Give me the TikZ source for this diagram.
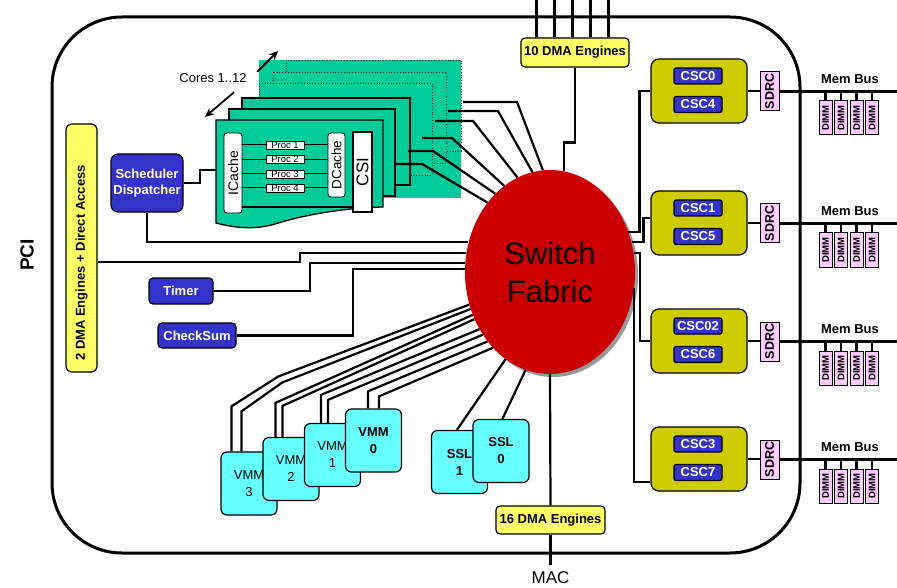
\documentclass[tikz,border=0pt]{standalone}
\usepackage{fontspec}
\setmainfont{Liberation Sans}
\usepackage{graphicx}
\usetikzlibrary{shapes.geometric,shadows,positioning,arrows.meta}

\definecolor{fabricred}{HTML}{CC0000}
\definecolor{unitblue}{HTML}{3333CC}
\definecolor{dmayellow}{HTML}{FFFF66}
\definecolor{chanolive}{HTML}{CCCC00}
\definecolor{dimmpink}{HTML}{FFCCFF}
\definecolor{vmmcyan}{HTML}{66FFFF}
\definecolor{coregreen}{HTML}{00CC99}

\newcommand\fsz[2]{\fontsize{#1}{#2}\selectfont}

\tikzset{
  wire/.style={line width=2.2pt},
  thinwire/.style={line width=1pt},
  blk/.style={draw, line width=1.2pt, rounded corners=4pt, inner sep=0pt, align=center},
  unit/.style={blk, fill=unitblue, text=white, font=\fsz{13}{16}\bfseries},
  dma/.style={blk, fill=dmayellow, font=\fsz{13}{14}\bfseries},
  vmm/.style={blk, fill=vmmcyan, minimum width=56pt, minimum height=63pt, rounded corners=6pt, font=\fsz{13}{17}},
  csc/.style={unit, minimum width=48pt, minimum height=16pt, rounded corners=2pt},
  chan/.style={blk, fill=chanolive, minimum width=96pt, minimum height=64pt, rounded corners=8pt},
  sdrc/.style={draw, line width=1pt, fill=dimmpink, inner sep=0pt, minimum width=19pt, minimum height=39pt, font=\fsz{12.5}{14}\bfseries},
  dimm/.style={sdrc, minimum width=13pt, minimum height=34pt, font=\fsz{9.5}{10}\bfseries},
  cache/.style={draw, fill=white, line width=0.8pt, rounded corners=3pt, inner sep=0pt},
  proc/.style={draw, fill=white, line width=0.8pt, inner sep=0pt, minimum width=38pt, minimum height=8pt, font=\fsz{9.5}{10}},
  card/.style={draw, line width=1.3pt, fill=coregreen},
  ghost/.style={draw, dotted, line width=0.8pt, fill=coregreen},
  cue/.style={line width=1.8pt, -{Stealth[length=9pt,width=8pt]}},
}

% one memory channel: #1 top edge, #2 tag, #3 #4 the two CSC labels
\newcommand\memchan[4]{%
  \node[chan] (g#2) at (699,#1+32) {};
  \node[csc] (c#2a) at (698,#1+17) {#3};
  \node[csc] (c#2b) at (698,#1+45.5) {#4};
  \node[sdrc] (s#2) at (769.5,#1+32.5) {\rotatebox{90}{SDRC}};
  \draw[wire] (g#2.east) -- (s#2.west |- g#2.east);
  \draw[wire] (s#2.east) -- (s#2.east -| busend);
  \node[font=\fsz{13}{14}\bfseries, inner sep=0pt] (m#2) at (850,#1+20) {Mem Bus};
  \foreach \k in {0,...,3} {
    \node[dimm] (d#2\k) at (825.5+15.5*\k,#1+59) {\rotatebox{90}{DIMM}};
    \draw[wire] (d#2\k.north) -- (d#2\k.north |- s#2.east);
  }
}

\begin{document}
\begin{tikzpicture}[x=1pt, y=-1pt]
  \useasboundingbox (0,0) rectangle (897,588);

  %%%%% FRAME %%%%%
  \draw[line width=3pt, rounded corners=70pt] (52,17) rectangle (800,553);
  \node[font=\fsz{19}{20}\bfseries, rotate=90] (pci) at (27,255) {PCI};
  \coordinate (busend) at (897,0);

  %%%%% CORES %%%%%
  \fill[coregreen] (259,60) rectangle (461,198);
  \draw[ghost] (286,60) rectangle (461,151);
  \draw[ghost] (273,72) rectangle (446,163);
  \draw[ghost] (259,83) rectangle (432,175);
  \draw[card] (242,98) rectangle (410,185);
  \draw[card] (229,109) rectangle (395,196);
  \draw[card] (216,120) -- (383,120) -- (383,207)
    .. controls (340,208) and (300,216) .. (275,224)
    .. controls (255,230) and (235,228) .. (216,223) -- cycle;

  \node[font=\fsz{13}{15}] (cores) at (213,78) {Cores 1..12};
  \coordinate (nearcard) at (205,117);
  \coordinate (farcard) at (278,51);
  \draw[cue] ([xshift=-16pt,yshift=-6pt]cores.south east) -- (nearcard);
  \draw[cue] ([xshift=7pt,yshift=-2pt]cores.north east) -- (farcard);

  % front core
  \node[cache, minimum width=18pt, minimum height=80pt, font=\fsz{14}{15}] (icache) at (233,173) {\rotatebox{90}{ICache}};
  \node[cache, minimum width=17pt, minimum height=64pt, font=\fsz{13.5}{15}] (dcache) at (336.5,165) {\rotatebox{90}{DCache}};
  \node[draw, fill=white, line width=2pt, inner sep=0pt, minimum width=19pt, minimum height=80pt, font=\fsz{17}{18}] (csi) at (362.5,172) {\rotatebox{90}{CSI}};
  \node[proc] (p1) at (285,145) {Proc 1};
  \node[proc] (p2) at (285,159.5) {Proc 2};
  \node[proc] (p3) at (285,174) {Proc 3};
  \node[proc] (p4) at (285,188) {Proc 4};
  \draw[thinwire] (icache.east |- p1.west) -- (p1.west);
  \draw[thinwire] (icache.east |- p2.west) -- (p2.west);
  \draw[thinwire] (icache.east |- p3.west) -- (p3.west);
  \draw[thinwire] (icache.east |- p4.west) -- (p4.west);
  \draw[thinwire] (p1.east) -- (dcache.west |- p1.east);
  \draw[thinwire] (p2.east) -- (dcache.west |- p2.east);
  \draw[thinwire] (p3.east) -- (dcache.west |- p3.east);
  \draw[thinwire] (p4.east) -- (dcache.west |- p4.east);
  \draw[line width=1.5pt] (icache.east |- 0,207) -- (csi.west |- 0,207);

  %%%%% SWITCH %%%%%
  \node[ellipse, fill=fabricred, minimum width=170pt, minimum height=204pt, inner sep=0pt, align=center,
    font=\fsz{31}{38}, drop shadow={shadow xshift=3pt, shadow yshift=-3pt, fill=black!40, opacity=1}]
    (sf) at (550,272) {Switch\\Fabric};

  %%%%% LEFT UNITS %%%%%
  \node[dma, minimum width=31pt, minimum height=248pt, rounded corners=6pt] (dma2) at (81.5,248)
    {\rotatebox{90}{2 DMA Engines + Direct Access\hspace*{30pt}}};
  \node[unit, minimum width=72pt, minimum height=58pt, rounded corners=7pt] (sched) at (147,183) {Scheduler\\Dispatcher};
  \node[unit, minimum width=64pt, minimum height=26pt] (timer) at (181,291) {Timer};
  \node[unit, minimum width=78pt, minimum height=25pt] (cksum) at (197,335.5) {CheckSum};

  %%%%% DMA + MAC %%%%%
  \node[dma, minimum width=108pt, minimum height=29pt] (dma10) at (575,52.5) {10 DMA Engines};
  \node[dma, minimum width=109pt, minimum height=28pt] (dma16) at (550.5,520) {16 DMA Engines};
  \coordinate (macpin) at (550.5,565);
  \node[font=\fsz{17}{18}, inner sep=1pt, below=5pt of macpin] (mac) {MAC};

  %%%%% VMM + SSL %%%%%
  \node[vmm] (vmm3) at (249,483.5) {VMM\\3};
  \node[vmm] (vmm2) at (291,469) {VMM\\2};
  \node[vmm] (vmm1) at (332.5,455) {VMM\\1};
  \node[vmm, font=\fsz{13}{17}\bfseries] (vmm0) at (373.5,440.5) {VMM\\0};
  \node[vmm, font=\fsz{13}{17}\bfseries] (ssl1) at (459.5,462) {SSL\\1};
  \node[vmm, font=\fsz{13}{17}\bfseries] (ssl0) at (501,451) {SSL\\0};

  %%%%% MEMORY %%%%%
  \memchan{59}{0}{CSC0}{CSC4}
  \memchan{191}{1}{CSC1}{CSC5}
  \memchan{309}{2}{CSC02}{CSC6}
  \memchan{427}{3}{CSC3}{CSC7}

  %%%%% WIRES %%%%%
  \coordinate (port0) at (395,164);
  \coordinate (port1) at (408,151);
  \coordinate (port2) at (422,138);
  \coordinate (port3) at (435,121);
  \coordinate (port4) at (448,111);
  \coordinate (port5) at (463,102);
  \draw[wire] (port0) -- ++(27,0) -- (sf.132);
  \draw[wire] (port1) -- ++(25,0) -- (sf.125);
  \draw[wire] (port2) -- ++(30,0) -- (sf.118);
  \draw[wire] (port3) -- ++(38,0) -- (sf.109);
  \draw[wire] (port4) -- ++(50,0) -- (sf.100);
  \draw[wire] (port5) -- ++(54,0) -- (sf.94);

  \coordinate (cardin) at (216,170);
  \draw[wire] (sched.east) -- ++(16,0) |- (cardin);
  \draw[wire] (sched.south) |- (sf.160);
  \draw[wire] (dma2.east |- 0,262) -- (300,262) |- (sf.167);
  \draw[wire] (timer.east) -- ++(96,0) |- (sf.174);
  \draw[wire] (cksum.east) -- ++(116,0) |- (sf.178);

  \foreach \dx in {16,34,52,70,88}
    \draw[wire] ([xshift=\dx pt]dma10.north west) -- ++(0,-38);
  \draw[wire] (dma10.south) -- ++(0,75) -| (sf.82);
  \draw[wire] (sf.south) -- (dma16.north);
  \draw[wire] (dma16.south) -- (macpin);

  \draw[wire] ([xshift=11pt]vmm3.north west) -- ++(0,-45) -- ++(47,-30) -- (sf.202);
  \draw[wire] ([xshift=21pt]vmm3.north west) -- ++(0,-40) -- ++(41,-29) -- (sf.205);
  \draw[wire] ([xshift=13pt]vmm2.north west) -- ++(0,-34) -- (sf.209);
  \draw[wire] ([xshift=20pt]vmm2.north west) -- ++(0,-31) -- (sf.212);
  \draw[wire] ([xshift=17pt]vmm1.north west) -- ++(0,-28) -- (sf.219);
  \draw[wire] ([xshift=24pt]vmm1.north west) -- ++(0,-23) -- (sf.223);
  \draw[wire] ([xshift=23pt]vmm0.north west) -- ++(0,-17) -- (sf.228);
  \draw[wire] ([xshift=34pt]vmm0.north west) -- ++(0,-12) -- (sf.233);
  \draw[wire] ([xshift=26pt]ssl1.north west) -- (sf.243);
  \draw[wire] ([xshift=30pt]ssl0.north west) -- (sf.256);

  \draw[wire] (sf.27) -- ++(11,0) |- (g0.west);
  \draw[wire] (sf.20) -- ++(12,0) |- ([yshift=5pt]g1.west);
  \draw[wire] (sf.13) -- ++(6,0) |- (g2.west);
  \draw[wire] (sf.-11) |- (g3.205);
\end{tikzpicture}
\end{document}
